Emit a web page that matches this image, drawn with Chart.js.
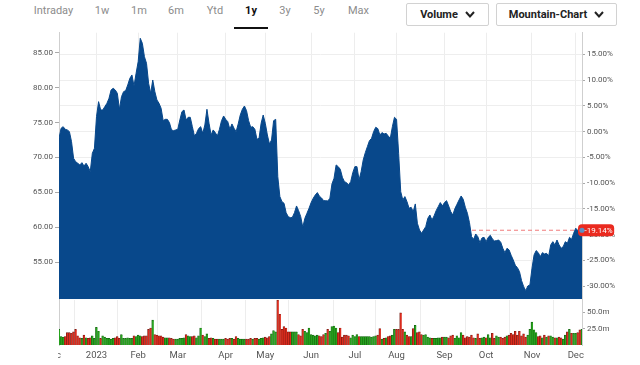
<!DOCTYPE html>
<html><head><meta charset="utf-8">
<script src="https://cdn.jsdelivr.net/npm/chart.js@4"></script>
<style>
html,body{margin:0;padding:0;background:#fff;width:640px;height:365px;overflow:hidden;font-family:Roboto,'Liberation Sans',sans-serif;}
.tab{position:absolute;top:4px;font-size:11px;color:#8c8c8c;transform:translateX(-50%);white-space:nowrap;}
.tab.on{color:#111;font-weight:bold;}
#ul{position:absolute;left:234px;top:27px;width:34px;height:2px;background:#111;}
.btn{position:absolute;top:3px;height:23px;border:1px solid #d2d2d2;border-radius:2px;box-sizing:border-box;font-size:11px;font-weight:bold;color:#222;display:flex;align-items:center;justify-content:center;}
.btn svg{margin-left:7px}
#w1{position:absolute;left:0;top:30px;width:640px;height:270px}
#w2{position:absolute;left:0;top:299px;width:640px;height:66px}
</style></head>
<body>
<div id="bar"></div>
<div id="w1"><canvas id="c1" width="640" height="270"></canvas></div>
<div id="w2"><canvas id="c2" width="640" height="66"></canvas></div>
<script>
// ---- data ----
const tabs = ['Intraday','1w','1m','6m','Ytd','1y','3y','5y','Max'];
const activeTab = '1y';
const buttons = ['Volume','Mountain-Chart'];
const monthTicks = [-3,18,38,57,80,99,121,142,162,185,205,227,248];
const monthLabels = ['Dec','2023','Feb','Mar','Apr','May','Jun','Jul','Aug','Sep','Oct','Nov','Dec'];
const priceTicks = [55,60,65,70,75,80,85];
const pctTicks = [-30,-25,-20,-15,-10,-5,0,5,10,15];
const volTicks = [25,50];
const basePrice = 73.69;
const prices = [
72.74,74.18,74.41,74.03,73.94,73.7,72.27,69.88,69.4,69.17,
68.93,69.26,68.78,69.17,68.69,67.97,70.6,71.31,75.85,77.99,
76.8,76.8,77.28,77.75,78.47,79.66,79.9,79.66,79.18,76.9,
78.71,79.42,79.57,80.38,81.33,81.81,80.23,82.05,83.72,87.06,
86.34,84.43,83.48,80.62,79.18,81.09,79.42,78.23,77.75,77.04,
75.27,75.46,75.46,74.99,73.94,73.84,73.94,74.03,75.37,76.56,
76.8,75.37,75.75,75.75,74.41,73.08,73.46,74.13,74.41,73.46,
74.65,76.9,74.89,73.22,73.94,73.56,73.08,74.03,75.27,75.94,
75.46,75.13,74.03,74.8,74.18,73.7,74.8,76.08,76.9,77.37,
76.7,75.27,74.32,74.41,74.03,72.6,72.74,74.89,76.08,74.89,
73.22,71.93,72.5,75.27,75.46,67.26,64.4,63.68,63.44,62.1,
61.53,61.39,61.43,62.1,63.06,62.39,61.53,60.01,61.29,62.01,
62.73,63.54,64.16,64.63,64.97,64.45,64.2,63.82,63.82,63.77,
64.16,66.21,67.02,68.93,68.69,68.31,67.16,66.54,66.4,66.06,
66.54,67.83,68.69,68.69,66.78,67.97,69.64,70.69,71.55,72.41,
72.74,73.7,74.32,74.13,73.22,73.56,73.36,73.46,73.08,72.74,
74.41,75.75,75.46,70.6,65.11,63.92,64.4,63.68,62.73,62.87,
62.25,63.35,60.58,59.62,59.15,59.62,60.1,61.29,61.77,61.05,
61.63,62.39,62.96,63.54,63.06,63.54,63.82,63.06,62.25,61.77,
62.68,63.3,63.92,64.49,64.01,62.87,62.01,60.67,58.67,58.29,
59.05,58.67,57.81,58.48,58.57,57.95,58.57,58.86,58.34,58.05,
58.1,58.19,57.86,57.0,56.38,57.0,56.77,56.0,55.33,54.57,
54.23,53.66,52.37,51.51,50.94,51.61,51.75,54.14,56.05,56.67,
56.38,55.81,56.38,56.19,56.28,55.9,57.48,57.95,57.48,58.19,
57.48,57.0,57.24,57.95,57.72,58.57,58.29,59.15,59.87,59.53,
58.91,59.585];
const volumes = [
24,13,12,13,19,19,18,20,24,14,
11,10,15,11,10,11,14,10,27,21,
10,14,12,10,10,9,10,11,13,10,
16,10,10,11,10,10,14,13,15,14,
13,14,14,24,26,38,16,15,14,14,
12,11,11,11,10,9,9,9,10,10,
11,16,14,13,13,14,11,14,26,15,
13,17,10,11,10,9,9,9,9,9,
10,9,10,10,9,13,10,9,9,9,
9,9,10,9,10,10,9,10,11,12,
11,13,17,22,20,68.5,47,24,28,26,
20,20,20,20,20,16,14,24,21,19,
26,16,15,14,15,14,13,16,18,24,
21,28,29,26,19,26,12,15,15,14,
11,15,13,16,13,13,13,13,13,13,
12,13,14,15,25,9,10,11,13,14,
15,24,24,24,49,24,20,15,13,13,
25,30,19,20,16,15,16,12,11,10,
10,10,11,11,12,12,12,11,14,15,
10,14,11,19,15,11,13,12,15,11,
10,17,10,11,12,11,16,11,18,10,
14,12,12,10,12,14,15,18,16,21,
15,21,14,17,12,15,24,35,23,19,
13,14,11,15,12,14,14,12,11,11,
12,11,9,15,20,24,18,18,18,19,
23,24];

// ---- layout constants ----
const tabX = [53.5,102,139,176,215,251,285,319,358.5];
const btnBox = [[406,83],[496,121]];
const yMin = 49.7, yMax = 87.86, volMax = 68.7;

// toolbar
const bar = document.getElementById('bar');
tabs.forEach((t,i)=>{
  const d=document.createElement('div');
  d.className='tab'+(t===activeTab?' on':'');
  d.style.left=tabX[i]+'px'; d.textContent=t; bar.appendChild(d);
});
const ul=document.createElement('div'); ul.id='ul'; bar.appendChild(ul);
buttons.forEach((b,i)=>{
  const d=document.createElement('div'); d.className='btn';
  d.style.left=btnBox[i][0]+'px'; d.style.width=btnBox[i][1]+'px';
  d.innerHTML='<span>'+b+'</span><svg width="10" height="7"><polyline points="1,1 5,5.5 9,1" fill="none" stroke="#222" stroke-width="2"/></svg>';
  bar.appendChild(d);
});

const lastIdx = prices.length-1;
const last = prices[lastIdx];
const FONT = 'Roboto, "Liberation Sans", sans-serif';
const noPad = s=>{s.paddingTop=0;s.paddingBottom=0;};

const lastLabel = {id:'lastLabel', afterDraw(chart){
  const ctx=chart.ctx, ys=chart.scales.y, xs=chart.scales.x;
  const px=xs.getPixelForValue(lastIdx), py=ys.getPixelForValue(last);
  const txt=((last/basePrice-1)*100).toFixed(2)+'%';
  ctx.save();
  ctx.font='8px '+FONT;
  const w=ctx.measureText(txt).width;
  ctx.fillStyle='#ea2a1f';
  ctx.beginPath();
  ctx.roundRect(px-4, py-6, w+8, 12, 4);
  ctx.fill();
  ctx.beginPath(); ctx.arc(px,py,2.6,0,Math.PI*2);
  ctx.fillStyle='#5d8ec2'; ctx.fill();
  ctx.fillStyle='#fff'; ctx.textBaseline='middle'; ctx.textAlign='left';
  ctx.fillText(txt, px+2.5, py+0.5);
  ctx.restore();
}};

new Chart(document.getElementById('c1'), {
  type:'line',
  data:{datasets:[
    {data: prices.map((p,i)=>({x:i,y:p})), borderColor:'#08488b', backgroundColor:'#08488b',
     borderWidth:1, pointRadius:0, fill:'start', tension:0, yAxisID:'y', order:1},
    {data: [{x:0,y:last},{x:lastIdx,y:last}], borderColor:'#f07a7a', borderDash:[4,3],
     borderWidth:1, pointRadius:0, fill:false, yAxisID:'y', order:2}
  ]},
  options:{
    responsive:false, animation:false, maintainAspectRatio:false,
    layout:{padding:{top:2.7,bottom:0.7,left:0,right:0}},
    plugins:{legend:{display:false},tooltip:{enabled:false}},
    scales:{
      x:{type:'linear',min:0,max:lastIdx,
         afterBuildTicks:s=>{s.ticks=monthTicks.filter(v=>v>=0).map(v=>({value:v}));},
         ticks:{display:false}, grid:{color:'#ededed',drawTicks:false}, border:{display:false},
         afterFit:s=>{s.height=0;s.paddingLeft=0;s.paddingRight=0;}},
      y:{position:'left',min:yMin,max:yMax,
         afterBuildTicks:s=>{s.ticks=priceTicks.map(v=>({value:v}));},
         ticks:{callback:v=>v.toFixed(2),font:{size:8,family:FONT},color:'#555',padding:2},
         grid:{drawOnChartArea:false,tickLength:4,color:'#aaa'}, border:{color:'#cfcfcf'},
         afterFit:s=>{s.width=59;noPad(s);}},
      yp:{position:'right',min:(yMin/basePrice-1)*100,max:(yMax/basePrice-1)*100,
         afterBuildTicks:s=>{s.ticks=pctTicks.map(v=>({value:v}));},
         ticks:{callback:v=>v.toFixed(2)+'%',font:{size:8,family:FONT},color:'#555',padding:2},
         grid:{color:'#eeeeee',tickLength:3,tickColor:'#aaa'}, border:{color:'#cfcfcf'},
         afterFit:s=>{s.width=58;noPad(s);}}
    }
  },
  plugins:[lastLabel]
});

const GREEN='#27a31e', RED='#dc2b1d', GREEN_D='#13600f', RED_D='#741a12';
const up = prices.map((p,i)=> i===0 || p>=prices[i-1]);
const volColors = up.map(u=>u?GREEN:RED);
const volBorders = up.map(u=>u?GREEN_D:RED_D);

const clipDec = {id:'clipDec', afterDraw(chart){
  const ctx=chart.ctx; ctx.save(); ctx.fillStyle='#fff';
  ctx.fillRect(0, chart.chartArea.bottom+1, chart.chartArea.left-1, chart.height);
  ctx.restore();
}};

new Chart(document.getElementById('c2'), {
  type:'bar',
  data:{datasets:[{data: volumes.map((v,i)=>({x:i,y:v})), backgroundColor:volColors,
    borderColor:volBorders, borderWidth:{left:0.7,top:0.7,right:0,bottom:0},
    borderSkipped:false, barPercentage:1, categoryPercentage:1, yAxisID:'yv'}]},
  options:{
    responsive:false, animation:false, maintainAspectRatio:false,
    layout:{padding:{top:1,bottom:0,left:0,right:0}},
    plugins:{legend:{display:false},tooltip:{enabled:false}},
    scales:{
      x:{type:'linear',min:0,max:lastIdx,offset:false,
         afterBuildTicks:s=>{s.ticks=monthTicks.map(v=>({value:v}));},
         ticks:{callback:(v,i)=>monthLabels[i],autoSkip:false,maxRotation:0,
                font:{size:9.5,family:FONT},color:'#555',padding:5},
         grid:{color:c=>(c.tick && c.tick.value<0)?'rgba(0,0,0,0)':'#ededed',drawTicks:false},
         border:{display:false}, afterFit:s=>{s.height=20;s.paddingLeft=0;s.paddingRight=0;}},
      yl:{position:'left',ticks:{display:false},grid:{display:false},border:{color:'#cfcfcf'},
         afterFit:s=>{s.width=59;noPad(s);}},
      yv:{position:'right',min:0,max:volMax,
         afterBuildTicks:s=>{s.ticks=volTicks.map(v=>({value:v}));},
         ticks:{callback:v=>v.toFixed(1)+'m',font:{size:8,family:FONT},color:'#555',padding:2},
         grid:{drawOnChartArea:false,tickLength:3,color:'#aaa'}, border:{color:'#cfcfcf'},
         afterFit:s=>{s.width=58;noPad(s);}}
    }
  },
  plugins:[clipDec]
});
</script>
</body></html>
